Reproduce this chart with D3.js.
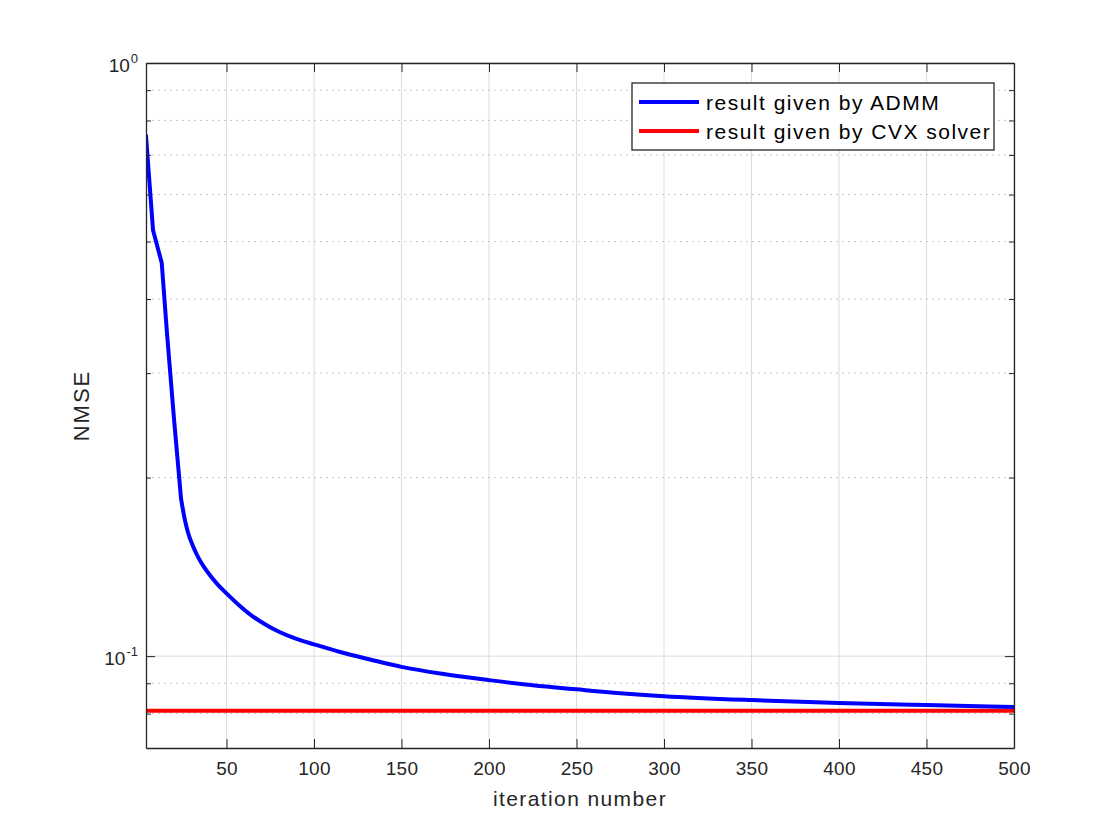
<!DOCTYPE html>
<html>
<head>
<meta charset="utf-8">
<script src="https://cdn.jsdelivr.net/npm/d3@7"></script>
<style>
    body { margin: 0; background: #fff; }
    svg { display: block; font-family: "Liberation Sans", Arial, sans-serif; }
    .axis path, .axis line { stroke: #262626; }
    .axis text { fill: #262626; }
</style>
</head>
<body>
<div class="chart"></div>
<script>
// ADMM convergence (NMSE per iteration)
const admmIter = [4, 8, 13, 16, 20, 24, 26, 28, 31, 34, 37, 41, 45, 50, 57, 65, 72, 80, 90, 100,
    115, 132, 150, 175, 200, 225, 250, 275, 300, 350, 400, 450, 500];
const admmNmse = [0.754, 0.523, 0.460, 0.350, 0.2512, 0.1845, 0.1709, 0.1616, 0.1529, 0.1464, 0.1415, 0.1363, 0.1320, 0.1276, 0.1220, 0.1167, 0.1132, 0.1099, 0.1069, 0.1047,
    0.1016, 0.0987, 0.0959, 0.0932, 0.0911, 0.0893, 0.0879, 0.0866, 0.0856, 0.0843, 0.0834, 0.0827, 0.0821];
// the first six points are joined by straight segments, the rest is a smooth decay
const admmKnee = 5;
// CVX solver result (constant)
const cvxIter = [4, 500];
const cvxNmse = [0.0809, 0.0809];

const xTicks = [50, 100, 150, 200, 250, 300, 350, 400, 450, 500];
const yMajor = [0.1, 1];
const yMinor = [0.08, 0.09, 0.2, 0.3, 0.4, 0.5, 0.6, 0.7, 0.8, 0.9];
const yLabels = [{ v: 0.1, exp: '-1' }, { v: 1, exp: '0' }];

const legendNames = ['result given by ADMM', 'result given by CVX solver'];
const legendColors = ['#0000ff', '#ff0000'];

const width = 1120, height = 840;
const margin = { left: 146, right: 106, top: 63, bottom: 92 };
const plotW = width - margin.left - margin.right;
const plotH = height - margin.top - margin.bottom;

const svg = d3.select('.chart')
    .append('svg')
    .attr('width', width)
    .attr('height', height);

const x = d3.scaleLinear().domain([4, 500]).range([margin.left, margin.left + plotW]);
const y = d3.scaleLog().domain([0.07, 1]).range([margin.top + plotH, margin.top]);

// grid
const grid = svg.append('g');
grid.selectAll('.xgrid')
    .data(xTicks)
    .enter().append('line')
    .attr('x1', d => x(d)).attr('x2', d => x(d))
    .attr('y1', margin.top).attr('y2', margin.top + plotH)
    .style('stroke', '#dcdcdc').style('stroke-width', 1);
grid.selectAll('.ygrid')
    .data(yMajor)
    .enter().append('line')
    .attr('x1', margin.left).attr('x2', margin.left + plotW)
    .attr('y1', d => y(d)).attr('y2', d => y(d))
    .style('stroke', '#dcdcdc').style('stroke-width', 1);
grid.selectAll('.yminor')
    .data(yMinor)
    .enter().append('line')
    .attr('x1', margin.left).attr('x2', margin.left + plotW)
    .attr('y1', d => y(d)).attr('y2', d => y(d))
    .style('stroke', '#c8c8c8').style('stroke-width', 1)
    .style('stroke-dasharray', '2,4');

// lines
svg.append('clipPath').attr('id', 'clip')
    .append('rect')
    .attr('x', margin.left).attr('y', margin.top)
    .attr('width', plotW).attr('height', plotH);

const line = d3.line()
    .x(d => x(d[0]))
    .y(d => y(d[1]));
const smoothLine = d3.line()
    .x(d => x(d[0]))
    .y(d => y(d[1]))
    .curve(d3.curveMonotoneX);

svg.append('path')
    .datum(cvxIter.map((d, i) => [d, cvxNmse[i]]))
    .attr('clip-path', 'url(#clip)')
    .attr('d', line)
    .style('fill', 'none')
    .style('stroke', legendColors[1])
    .style('stroke-width', 4);

const admm = admmIter.map((d, i) => [d, admmNmse[i]]);
svg.append('path')
    .datum(admm.slice(0, admmKnee + 1))
    .attr('clip-path', 'url(#clip)')
    .attr('d', line)
    .style('fill', 'none')
    .style('stroke', legendColors[0])
    .style('stroke-width', 4)
    .style('stroke-linejoin', 'round')
    .style('stroke-linecap', 'round');
svg.append('path')
    .datum(admm.slice(admmKnee))
    .attr('clip-path', 'url(#clip)')
    .attr('d', smoothLine)
    .style('fill', 'none')
    .style('stroke', legendColors[0])
    .style('stroke-width', 4)
    .style('stroke-linecap', 'round');

// axes (ticks pointing inward, like matlab)
const xAxis = svg.append('g')
    .attr('class', 'axis')
    .attr('transform', `translate(0,${margin.top + plotH})`)
    .call(d3.axisBottom(x).tickValues(xTicks).tickSizeInner(-9).tickSizeOuter(0).tickPadding(14));
xAxis.selectAll('text').style('font-size', '19px').style('letter-spacing', '0.3px');

svg.append('g')
    .attr('class', 'axis')
    .attr('transform', `translate(0,${margin.top})`)
    .call(d3.axisTop(x).tickValues(xTicks).tickSizeInner(-9).tickSizeOuter(0).tickFormat(''));

svg.append('g')
    .attr('class', 'axis')
    .attr('transform', `translate(${margin.left},0)`)
    .call(d3.axisLeft(y).tickValues(yMajor).tickSizeInner(-9).tickSizeOuter(0).tickFormat(''));
svg.append('g')
    .attr('class', 'axis')
    .attr('transform', `translate(${margin.left},0)`)
    .call(d3.axisLeft(y).tickValues(yMinor).tickSizeInner(-5).tickSizeOuter(0).tickFormat(''))
    .select('.domain').remove();

svg.append('g')
    .attr('class', 'axis')
    .attr('transform', `translate(${margin.left + plotW},0)`)
    .call(d3.axisRight(y).tickValues(yMajor).tickSizeInner(-9).tickSizeOuter(0).tickFormat(''));
svg.append('g')
    .attr('class', 'axis')
    .attr('transform', `translate(${margin.left + plotW},0)`)
    .call(d3.axisRight(y).tickValues(yMinor).tickSizeInner(-5).tickSizeOuter(0).tickFormat(''))
    .select('.domain').remove();

svg.selectAll('.axis .domain').style('stroke-width', 1.3);

// y tick labels 10^n
const yLab = svg.selectAll('.ylab')
    .data(yLabels)
    .enter().append('text')
    .attr('class', 'ylab')
    .attr('x', 138)
    .attr('y', d => y(d.v) + 9)
    .attr('text-anchor', 'end')
    .style('fill', '#262626')
    .style('font-size', '19px');
yLab.append('tspan').text('10');
yLab.append('tspan')
    .attr('dy', -9)
    .attr('dx', 1)
    .style('font-size', '13px')
    .text(d => d.exp);

// axis labels
svg.append('text')
    .attr('x', margin.left + plotW / 2)
    .attr('y', 806)
    .attr('text-anchor', 'middle')
    .style('font-size', '21px')
    .style('letter-spacing', '1.4px')
    .style('fill', '#262626')
    .text('iteration number');

svg.append('text')
    .attr('transform', `translate(89,${margin.top + plotH / 2}) rotate(-90)`)
    .attr('text-anchor', 'middle')
    .style('font-size', '22px')
    .style('letter-spacing', '2px')
    .style('fill', '#262626')
    .text('NMSE');

// legend
const legend = svg.append('g').attr('transform', 'translate(632,83)');
legend.append('rect')
    .attr('width', 362).attr('height', 67)
    .style('fill', '#fff')
    .style('stroke', '#262626')
    .style('stroke-width', 1.3);

const items = legend.selectAll('.item')
    .data(legendNames)
    .enter().append('g')
    .attr('transform', (d, i) => `translate(0,${19 + i * 29})`);
items.append('line')
    .attr('x1', 7).attr('x2', 67)
    .attr('y1', 0).attr('y2', 0)
    .style('stroke', (d, i) => legendColors[i])
    .style('stroke-width', 4);
items.append('text')
    .attr('x', 74)
    .attr('y', 7.5)
    .style('font-size', '21px')
    .style('letter-spacing', '1.5px')
    .style('fill', '#000')
    .text(d => d);
</script>
</body>
</html>
